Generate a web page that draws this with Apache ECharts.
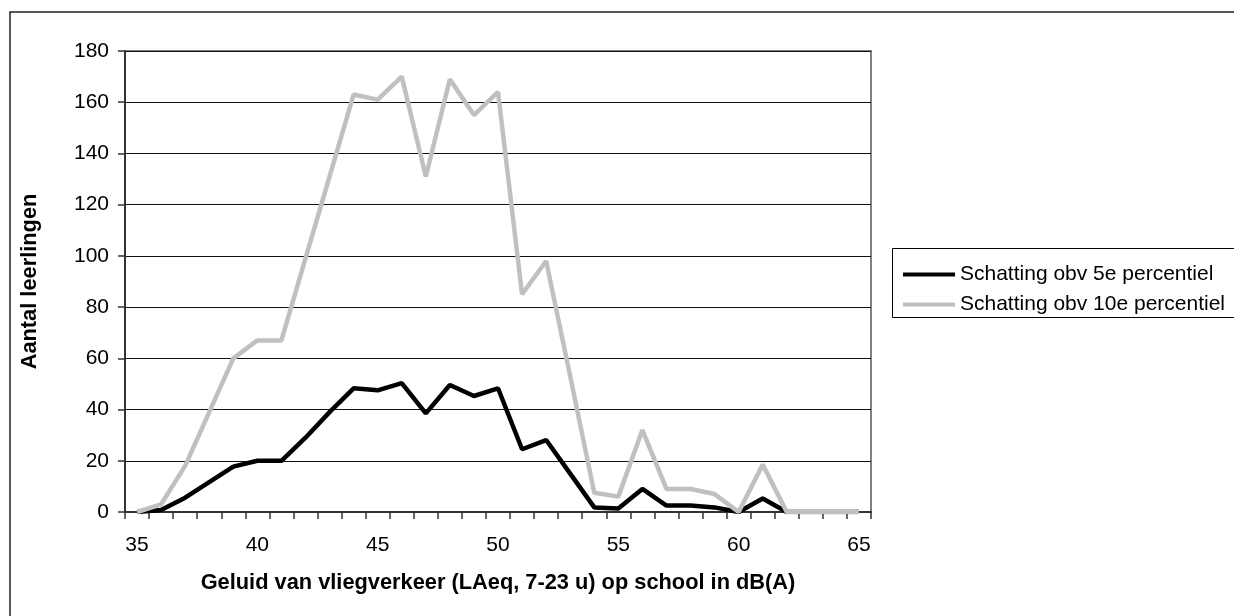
<!DOCTYPE html>
<html>
<head>
<meta charset="utf-8">
<script src="https://cdn.jsdelivr.net/npm/echarts@6/dist/echarts.min.js"></script>
<style>
    html,body{margin:0;padding:0;background:#fff;}
    #chart{width:1234px;height:616px;}
</style>
</head>
<body>
<div id="chart"></div>
<script>
// dB(A) klassen
var categories = ['35','36','37','38','39','40','41','42','43','44','45','46','47','48','49','50',
    '51','52','53','54','55','56','57','58','59','60','61','62','63','64','65'];
// schatting obv 5e percentiel
var p5Values = [0, 0.8, 5.6, 11.7, 17.7, 20, 20, 29, 39, 48.3, 47.5, 50.3, 38.5, 49.6, 45.3, 48.3,
    24.5, 28.1, 15, 1.8, 1.4, 9, 2.5, 2.5, 1.8, 0, 5.3, 0, 0, 0, 0];
// schatting obv 10e percentiel
var p10Values = [0, 3, 18, 39, 60, 67, 67, 99, 131, 163, 161, 170, 131, 169, 155, 164,
    85, 98, 53, 7.5, 6, 32, 9, 9, 7, 0, 18.5, 0, 0, 0, 0];
var seriesNames = ['Schatting obv 5e percentiel', 'Schatting obv 10e percentiel'];
var xTitle = 'Geluid van vliegverkeer (LAeq, 7-23 u) op school in dB(A)';
var yTitle = 'Aantal leerlingen';

var fontName = '"Liberation Sans", Arial, sans-serif';
var chart = echarts.init(document.getElementById('chart'));

var option = {
    animation: false,
    backgroundColor: '#fff',
    textStyle: { fontFamily: fontName },
    graphic: [{
        // kader om de hele grafiek
        type: 'rect',
        shape: { x: 10, y: 12, width: 1300, height: 700 },
        style: { fill: null, stroke: '#222', lineWidth: 1.5 },
        z: -1
    }, {
        // kader om de legenda
        type: 'rect',
        shape: { x: 892.5, y: 248.5, width: 400, height: 69 },
        style: { fill: '#fff', stroke: '#000', lineWidth: 1 },
        z: 0
    }],
    grid: {
        left: 125,
        right: 363,
        top: 51,
        bottom: 104,
        show: true,
        borderColor: '#808080',
        borderWidth: 2
    },
    legend: {
        orient: 'vertical',
        left: 898,
        top: 259,
        itemWidth: 52,
        itemHeight: 4,
        itemGap: 9,
        icon: 'rect',
        textStyle: { fontSize: 21, color: '#000', fontFamily: fontName },
        data: seriesNames,
        z: 5
    },
    xAxis: {
        type: 'category',
        data: categories,
        boundaryGap: true,
        name: xTitle,
        nameLocation: 'middle',
        nameGap: 60,
        nameTextStyle: { fontSize: 21.8, fontWeight: 'bold', color: '#000' },
        axisLine: { lineStyle: { color: '#333', width: 2 } },
        axisTick: { show: true, interval: 0, length: 7, lineStyle: { color: '#333', width: 1.5 } },
        axisLabel: { interval: 4, margin: 23, fontSize: 21, color: '#000' },
        splitLine: { show: false }
    },
    yAxis: {
        type: 'value',
        min: 0,
        max: 180,
        interval: 20,
        name: yTitle,
        nameLocation: 'middle',
        nameGap: 84,
        nameTextStyle: { fontSize: 21.8, fontWeight: 'bold', color: '#000' },
        axisLine: { show: true, lineStyle: { color: '#333', width: 2 } },
        axisTick: { show: true, length: 7, lineStyle: { color: '#333', width: 1.5 } },
        axisLabel: { margin: 16, fontSize: 21, color: '#000' },
        splitLine: { lineStyle: { color: '#111', width: 1 } }
    },
    series: [{
        name: seriesNames[0],
        type: 'line',
        data: p5Values,
        symbol: 'none',
        lineStyle: { color: '#000', width: 4.5 },
        itemStyle: { color: '#000' }
    }, {
        name: seriesNames[1],
        type: 'line',
        data: p10Values,
        symbol: 'none',
        lineStyle: { color: '#c0c0c0', width: 4.5 },
        itemStyle: { color: '#c0c0c0' }
    }]
};
chart.setOption(option);
</script>
</body>
</html>
